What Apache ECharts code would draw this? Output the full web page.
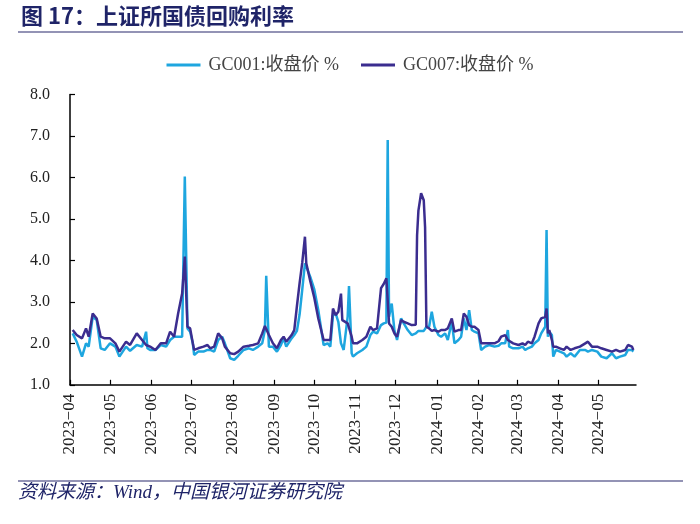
<!DOCTYPE html>
<html>
<head>
<meta charset="utf-8">
<script src="https://cdn.jsdelivr.net/npm/echarts@6/dist/echarts.min.js"></script>
<style>
html,body{margin:0;padding:0;background:#fff;}
#main{width:700px;height:524px;}
</style>
</head>
<body>
<div id="main"></div>
<script>
const titleText = '图 17：上证所国债回购利率';
const sourceText = '资料来源：Wind，中国银河证券研究院';
const seriesNames = ['GC001:收盘价 %', 'GC007:收盘价 %'];
const yTicks = [1, 2, 3, 4, 5, 6, 7, 8];

const dates = [
'2023-04-03','2023-04-06','2023-04-10','2023-04-13','2023-04-15','2023-04-18','2023-04-21','2023-04-24','2023-04-27','2023-05-01',
'2023-05-05','2023-05-08','2023-05-13','2023-05-16','2023-05-21','2023-05-25','2023-05-28','2023-05-29','2023-05-31','2023-06-04',
'2023-06-08','2023-06-12','2023-06-15','2023-06-18','2023-06-21','2023-06-24','2023-06-26','2023-06-28','2023-06-30','2023-07-02',
'2023-07-03','2023-07-06','2023-07-10','2023-07-13','2023-07-15','2023-07-18','2023-07-21','2023-07-24','2023-07-26','2023-07-30',
'2023-08-02','2023-08-05','2023-08-09','2023-08-13','2023-08-16','2023-08-20','2023-08-23','2023-08-25','2023-08-26','2023-08-28',
'2023-08-31','2023-09-03','2023-09-06','2023-09-08','2023-09-10','2023-09-14','2023-09-16','2023-09-18','2023-09-20','2023-09-22',
'2023-09-24','2023-09-25','2023-09-28','2023-10-01','2023-10-04','2023-10-08','2023-10-11','2023-10-13','2023-10-15','2023-10-17',
'2023-10-19','2023-10-21','2023-10-22','2023-10-23','2023-10-26','2023-10-27','2023-10-29','2023-10-30','2023-11-02','2023-11-06',
'2023-11-09','2023-11-12','2023-11-14','2023-11-17','2023-11-20','2023-11-22','2023-11-24','2023-11-25','2023-11-26','2023-11-28',
'2023-11-30','2023-12-02','2023-12-05','2023-12-07','2023-12-10','2023-12-13','2023-12-16','2023-12-17','2023-12-18','2023-12-20',
'2023-12-22','2023-12-23','2023-12-24','2023-12-26','2023-12-28','2023-12-30','2024-01-02','2024-01-04','2024-01-07','2024-01-09',
'2024-01-12','2024-01-14','2024-01-17','2024-01-19','2024-01-21','2024-01-23','2024-01-25','2024-01-27','2024-01-29','2024-02-01',
'2024-02-03','2024-02-06','2024-02-09','2024-02-13','2024-02-16','2024-02-18','2024-02-21','2024-02-23','2024-02-24','2024-02-27',
'2024-03-02','2024-03-05','2024-03-07','2024-03-09','2024-03-12','2024-03-14','2024-03-17','2024-03-19','2024-03-22','2024-03-23',
'2024-03-24','2024-03-25','2024-03-27','2024-03-28','2024-03-30','2024-04-02','2024-04-05','2024-04-07','2024-04-10','2024-04-13',
'2024-04-17','2024-04-21','2024-04-23','2024-04-26','2024-04-30','2024-05-03','2024-05-07','2024-05-11','2024-05-14','2024-05-17',
'2024-05-21','2024-05-23','2024-05-26','2024-05-27'
];

const gc001 = [
2.24,2.04,1.68,2.00,1.92,2.64,2.56,1.88,1.84,2.00,
1.92,1.68,1.92,1.82,1.96,1.92,2.28,1.88,1.84,1.84,
1.96,1.92,2.08,2.16,2.16,2.16,6.02,2.36,2.28,2.00,
1.72,1.80,1.80,1.84,1.84,1.80,2.08,2.16,2.00,1.64,
1.60,1.70,1.84,1.88,1.84,1.92,2.00,2.32,3.63,1.92,
1.92,1.80,1.96,2.12,1.92,2.12,2.20,2.30,2.70,3.30,
3.93,3.85,3.60,3.30,2.80,1.96,2.00,1.92,2.68,2.72,
2.52,2.00,1.92,1.84,2.64,3.38,1.76,1.68,1.76,1.84,
1.92,2.20,2.28,2.24,2.44,2.48,2.50,6.90,2.64,2.96,
2.32,2.08,2.60,2.48,2.32,2.20,2.24,2.28,2.30,2.30,
2.30,2.35,2.40,2.40,2.76,2.40,2.20,2.16,2.24,2.08,
2.52,2.00,2.08,2.16,2.60,2.32,2.80,2.32,2.28,2.24,
1.84,1.92,1.96,1.92,1.94,2.00,2.00,2.32,1.92,1.88,
1.88,1.92,1.84,1.88,1.92,2.00,2.08,2.24,2.40,4.73,
2.16,2.28,2.20,1.68,1.84,1.80,1.76,1.68,1.76,1.68,
1.84,1.84,1.80,1.84,1.80,1.68,1.64,1.76,1.64,1.68,
1.72,1.84,1.84,1.80
];

const gc007 = [
2.32,2.20,2.12,2.36,2.16,2.72,2.60,2.16,2.12,2.12,
2.00,1.80,2.04,1.96,2.24,2.08,1.96,1.96,1.92,1.84,
2.00,2.00,2.28,2.16,2.72,3.20,4.09,2.40,2.36,2.00,
1.84,1.88,1.92,1.96,1.88,1.92,2.24,2.12,1.92,1.76,
1.74,1.80,1.92,1.94,1.96,2.00,2.24,2.42,2.40,2.20,
2.00,1.88,2.08,2.16,2.04,2.20,2.32,2.90,3.45,3.95,
4.57,3.93,3.50,3.10,2.60,2.08,2.08,2.08,2.84,2.68,
2.76,3.20,2.56,2.56,2.48,2.52,2.16,2.00,2.00,2.08,
2.16,2.40,2.32,2.36,3.33,3.43,3.57,3.60,2.48,2.40,
2.24,2.16,2.56,2.52,2.48,2.44,2.45,4.60,5.20,5.62,
5.45,4.80,2.40,2.36,2.30,2.32,2.28,2.32,2.32,2.36,
2.60,2.28,2.32,2.32,2.72,2.64,2.44,2.40,2.40,2.32,
2.00,2.00,2.00,2.00,2.05,2.16,2.20,2.08,2.08,2.00,
1.96,2.00,1.96,2.04,2.00,2.16,2.48,2.60,2.64,2.84,
2.24,2.32,2.08,1.92,1.92,1.88,1.84,1.92,1.84,1.88,
1.92,2.00,2.04,1.92,1.92,1.88,1.84,1.80,1.84,1.80,
1.84,1.96,1.92,1.84
];

const colors = ['#1ea6df', '#3b2d8f'];
const serif = '"Liberation Serif", "Times New Roman", "Noto Sans CJK SC", serif';
const navy = '#1f2468';

const chart = echarts.init(document.getElementById('main'), null, {renderer: 'canvas'});

const option = {
  animation: false,
  backgroundColor: '#ffffff',
  title: {
    text: titleText,
    left: 16,
    top: 0,
    textStyle: {
      fontFamily: '"Noto Sans CJK SC", sans-serif',
      fontSize: 22,
      fontWeight: 'bold',
      color: navy
    }
  },
  legend: {
    top: 51,
    left: 'center',
    icon: 'rect',
    itemWidth: 34,
    itemHeight: 3,
    itemGap: 22,
    textStyle: {
      fontFamily: serif,
      fontSize: 18,
      color: '#444',
      padding: [0, 0, 0, 3]
    },
    data: seriesNames
  },
  grid: {
    left: 70,
    right: 64,
    top: 94.5,
    bottom: 139.2,
    containLabel: false
  },
  xAxis: {
    type: 'time',
    min: '2023-04-01',
    max: '2024-05-29',
    minInterval: 28 * 86400000,
    maxInterval: 31 * 86400000,
    splitLine: {show: false},
    axisLine: {lineStyle: {color: '#000', width: 1.5}},
    axisTick: {show: true, inside: true, length: 5, lineStyle: {color: '#000', width: 1.2}},
    axisLabel: {
      rotate: 90,
      fontFamily: serif,
      fontSize: 17,
      color: '#222',
      margin: 9,
      showMaxLabel: false,
      hideOverlap: false,
      formatter: function (v) {
        const d = new Date(v);
        const m = d.getMonth() + 1;
        return d.getFullYear() + '\u2212' + (m < 10 ? '0' + m : m);
      }
    }
  },
  yAxis: {
    type: 'value',
    min: yTicks[0],
    max: yTicks[yTicks.length - 1],
    interval: 1,
    splitLine: {show: false},
    axisLine: {show: true, lineStyle: {color: '#000', width: 1.5}},
    axisTick: {show: true, inside: true, length: 5, lineStyle: {color: '#000', width: 1.2}},
    axisLabel: {
      fontFamily: serif,
      fontSize: 16,
      color: '#222',
      margin: 20,
      formatter: function (v) { return v.toFixed(1); }
    }
  },
  series: [
    {
      name: seriesNames[0],
      type: 'line',
      showSymbol: false,
      symbol: 'none',
      data: dates.map((d, i) => [d, gc001[i]]),
      lineStyle: {color: colors[0], width: 2.5},
      itemStyle: {color: colors[0]}
    },
    {
      name: seriesNames[1],
      type: 'line',
      showSymbol: false,
      symbol: 'none',
      data: dates.map((d, i) => [d, gc007[i]]),
      lineStyle: {color: colors[1], width: 2.5},
      itemStyle: {color: colors[1]}
    }
  ],
  graphic: [
    {
      type: 'line',
      shape: {x1: 18, y1: 32, x2: 683, y2: 32},
      style: {stroke: '#6f6f9c', lineWidth: 1.5}
    },
    {
      type: 'line',
      shape: {x1: 18, y1: 481, x2: 683, y2: 481},
      style: {stroke: '#6f6f9c', lineWidth: 1.5}
    },
    {
      type: 'text',
      left: 18,
      top: 483,
      style: {
        text: sourceText,
        fontFamily: '"Liberation Serif", "Noto Sans CJK SC", serif',
        fontSize: 19,
        fontStyle: 'italic',
        fill: navy
      }
    }
  ]
};

chart.setOption(option);
</script>
</body>
</html>
